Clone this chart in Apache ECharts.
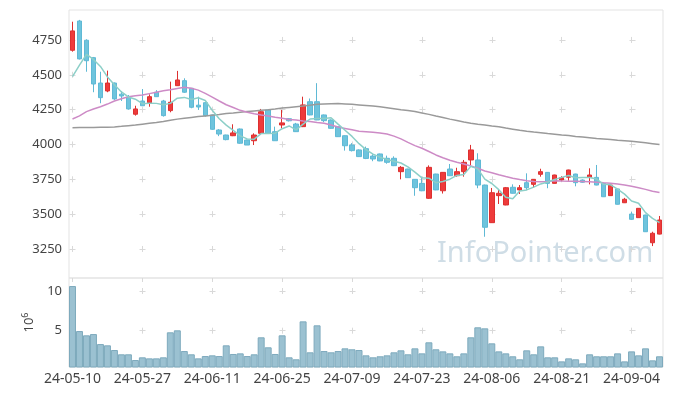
<!DOCTYPE html>
<html><head><meta charset="utf-8">
<script src="https://cdn.jsdelivr.net/npm/echarts@6/dist/echarts.min.js"></script>
<style>html,body{margin:0;padding:0;background:#fff}#c{width:673px;height:396px}</style>
</head><body><div id="c"></div>
<script>
const dates = ["24-05-10","24-05-13","24-05-14","24-05-16","24-05-17","24-05-20","24-05-21","24-05-22","24-05-23","24-05-24",
"24-05-27","24-05-28","24-05-29","24-05-30","24-05-31","24-06-03","24-06-04","24-06-05","24-06-07","24-06-10",
"24-06-11","24-06-12","24-06-13","24-06-14","24-06-17","24-06-18","24-06-19","24-06-20","24-06-21","24-06-24",
"24-06-25","24-06-26","24-06-27","24-06-28","24-07-01","24-07-02","24-07-03","24-07-04","24-07-05","24-07-08",
"24-07-09","24-07-10","24-07-11","24-07-12","24-07-15","24-07-16","24-07-17","24-07-18","24-07-19","24-07-22",
"24-07-23","24-07-24","24-07-25","24-07-26","24-07-29","24-07-30","24-07-31","24-08-01","24-08-02","24-08-05",
"24-08-06","24-08-07","24-08-08","24-08-09","24-08-12","24-08-13","24-08-14","24-08-16","24-08-19","24-08-20",
"24-08-21","24-08-22","24-08-23","24-08-26","24-08-27","24-08-28","24-08-29","24-08-30","24-09-02","24-09-03",
"24-09-04","24-09-05","24-09-06","24-09-09","24-09-10"];

const opens = [4676,4886,4748,4623,4441,4384,4441,4361,4339,4217,
4312,4300,4375,4312,4243,4422,4458,4403,4282,4300,
4212,4104,4068,4063,4111,4032,4027,4080,4248,4092,
4140,4185,4147,4128,4307,4307,4212,4176,4128,4063,
3996,3961,3970,3917,3932,3901,3901,3805,3824,3750,
3721,3614,3788,3668,3824,3776,3805,3889,3889,3709,
3439,3633,3566,3693,3674,3726,3714,3786,3800,3721,
3745,3765,3788,3745,3764,3764,3721,3633,3681,3582,
3501,3475,3494,3295,3357];
const highs = [4881,4894,4755,4628,4522,4530,4445,4384,4355,4278,
4398,4360,4390,4320,4451,4528,4475,4405,4343,4305,
4215,4110,4070,4145,4115,4035,4080,4255,4250,4128,
4248,4190,4155,4343,4330,4440,4215,4180,4130,4065,
4010,3965,3985,3930,3935,3920,3915,3845,3826,3752,
3769,3850,3790,3802,3860,3833,3889,3997,3937,3712,
3688,3678,3695,3714,3709,3793,3752,3826,3802,3783,
3772,3819,3790,3750,3829,3853,3723,3711,3683,3617,
3516,3544,3496,3374,3487];
const lows = [4666,4610,4522,4375,4296,4375,4320,4312,4250,4207,
4278,4271,4343,4200,4231,4420,4370,4260,4248,4200,
4105,4060,4030,4060,4005,3996,3996,4075,4078,4025,
4116,4165,4090,4125,4210,4175,4160,4114,4054,3956,
3950,3910,3895,3880,3880,3862,3845,3750,3760,3632,
3665,3610,3672,3648,3774,3769,3769,3853,3686,3338,
3437,3573,3564,3648,3645,3674,3690,3769,3686,3719,
3736,3740,3700,3725,3714,3707,3623,3631,3569,3580,
3458,3473,3372,3271,3355];
const closes = [4815,4614,4601,4434,4336,4441,4327,4348,4255,4255,
4278,4343,4343,4207,4303,4463,4375,4267,4269,4207,
4109,4075,4035,4083,4009,3996,4068,4235,4080,4027,
4155,4170,4092,4284,4212,4176,4171,4116,4056,3991,
3956,3913,3900,3896,3882,3872,3848,3836,3762,3690,
3668,3836,3674,3800,3776,3805,3872,3961,3709,3406,
3654,3650,3690,3650,3690,3690,3750,3805,3721,3781,
3762,3817,3726,3729,3781,3709,3625,3709,3571,3607,
3463,3542,3374,3363,3458];
const volumes = [10.63,4.96,4.42,4.58,3.32,3.16,2.57,2.03,2.03,1.31,
1.65,1.52,1.52,1.65,4.80,5.05,2.44,2.03,1.52,1.81,
1.90,1.81,3.16,2.07,2.15,1.81,2.03,4.17,2.91,2.07,
4.42,1.65,1.40,6.18,2.28,5.68,2.44,2.28,2.44,2.78,
2.66,2.57,1.90,1.65,1.78,1.90,2.28,2.53,2.03,2.78,
2.15,3.54,2.66,2.40,2.15,1.78,2.15,4.17,5.43,5.30,
3.41,2.40,2.15,1.78,1.40,2.53,2.03,3.03,1.65,1.65,
1.14,1.52,1.40,0.89,2.03,1.78,1.78,1.78,2.15,1.14,
2.40,1.90,2.78,1.27,1.78];
const ma5 = [4487,4570,4647,4610,4560,4485,4428,4377,4341,4325,
4293,4296,4295,4285,4295,4332,4338,4323,4335,4316,
4245,4185,4139,4102,4062,4040,4038,4078,4078,4081,
4113,4133,4105,4146,4183,4187,4187,4192,4146,4102,
4058,4006,3963,3931,3909,3893,3880,3867,3840,3802,
3761,3758,3726,3734,3751,3778,3785,3843,3825,3751,
3720,3676,3622,3610,3667,3674,3694,3717,3731,3749,
3764,3777,3761,3763,3763,3752,3714,3711,3679,3644,
3595,3578,3511,3470,3440];
const ma20 = [4183,4205,4236,4255,4271,4290,4312,4328,4343,4350,
4355,4365,4375,4385,4392,4402,4410,4403,4390,4367,
4340,4312,4285,4265,4245,4232,4220,4212,4205,4195,
4188,4180,4175,4169,4165,4158,4152,4140,4125,4115,
4105,4095,4092,4088,4082,4075,4060,4040,4015,3992,
3973,3950,3925,3905,3887,3872,3860,3845,3830,3810,
3797,3783,3770,3758,3748,3740,3735,3733,3735,3740,
3738,3737,3736,3734,3732,3729,3725,3722,3716,3710,
3700,3690,3678,3664,3655];
const ma60 = [4120,4121,4121,4122,4123,4124,4126,4130,4135,4140,
4146,4152,4158,4165,4174,4182,4188,4194,4200,4205,
4210,4215,4222,4226,4231,4236,4241,4246,4250,4255,
4261,4266,4271,4276,4282,4288,4291,4293,4294,4291,
4288,4284,4280,4276,4270,4264,4257,4250,4244,4236,
4226,4216,4204,4193,4182,4172,4162,4153,4146,4140,
4133,4128,4118,4110,4102,4095,4089,4084,4078,4073,
4068,4064,4058,4053,4048,4043,4039,4035,4030,4027,
4024,4018,4012,4006,4000];
const priceTicks = [3250,3500,3750,4000,4250,4500,4750];
const volTicks = [5,10];
const xTickIdx = [0,10,20,30,40,50,60,70,80];

const candleData = dates.map((d,i)=>[opens[i],closes[i],lows[i],highs[i]]);

const chart = echarts.init(document.getElementById('c'), null, {renderer:'canvas'});
const gridColor = '#e3e3e3';
const crossColor = '#d9d9d9';
const plain = v => String(v);
const lblFont = {color:'#444', fontSize:13, fontFamily:'"Noto Sans", sans-serif'};
chart.setOption({
  animation:false,
  backgroundColor:'#fff',
  grid:[
    {left:69, right:10, top:10, height:268, show:true, borderColor:gridColor, borderWidth:1},
    {left:69, right:10, top:278, height:89, show:true, borderColor:gridColor, borderWidth:1}
  ],
  xAxis:[
    {type:'category', gridIndex:0, data:dates, boundaryGap:true, axisLine:{show:false}, axisTick:{show:false}, axisLabel:{show:false}, splitLine:{show:false}},
    {type:'category', gridIndex:1, data:dates, boundaryGap:true, axisLine:{show:false}, axisTick:{show:false},
      axisLabel:Object.assign({}, lblFont, {interval:9, margin:5, fontSize:14}), splitLine:{show:false}},
    {type:'value', gridIndex:0, min:-0.5, max:84.5, axisLine:{show:false}, axisLabel:{show:false},
      axisTick:{show:false, customValues:xTickIdx},
      splitLine:{show:true, lineStyle:{color:crossColor, width:1, type:[6,28.84], dashOffset:7.9}}},
    {type:'value', gridIndex:1, min:-0.5, max:84.5, axisLine:{show:false}, axisLabel:{show:false},
      axisTick:{show:false, customValues:xTickIdx},
      splitLine:{show:true, lineStyle:{color:crossColor, width:1, type:[4,6,6,33.7,6,60]}}}
  ],
  yAxis:[
    {type:'value', gridIndex:0, min:3042, max:4965, axisLine:{show:false},
      axisTick:{show:false, customValues:priceTicks},
      axisLabel:Object.assign({customValues:priceTicks, margin:7, formatter:plain}, lblFont),
      splitLine:{show:true, lineStyle:{color:crossColor, width:1, type:[6,64], dashOffset:69.5}}},
    {type:'value', gridIndex:1, min:0.43, max:11.64, axisLine:{show:false},
      axisTick:{show:false, customValues:volTicks},
      axisLabel:Object.assign({customValues:volTicks, margin:7, formatter:plain}, lblFont),
      splitLine:{show:true, lineStyle:{color:crossColor, width:1, type:[6,64], dashOffset:69.5}},
      name:'{a|10}{b|6}', nameLocation:'middle', nameRotate:90, nameGap:28,
      nameTextStyle:{rich:{a:{fontSize:13,color:'#444',fontFamily:'"Noto Sans", sans-serif'}, b:{fontSize:9,color:'#444',fontFamily:'"Noto Sans", sans-serif', verticalAlign:'top', padding:[0,0,8,0]}}}}
  ],
  series:[
    {type:'candlestick', xAxisIndex:0, yAxisIndex:0, data:candleData, barWidth:5,
      itemStyle:{color:'#ee3b3b', color0:'#6ec4dd', borderColor:'#dd3030', borderColor0:'#5fb9d5', borderWidth:1}},
    {type:'line', xAxisIndex:0, yAxisIndex:0, data:ma60, showSymbol:false, lineStyle:{color:'#9a9a9a', width:1.5}},
    {type:'line', xAxisIndex:0, yAxisIndex:0, data:ma20, showSymbol:false, lineStyle:{color:'#cd8bc6', width:1.5}},
    {type:'line', xAxisIndex:0, yAxisIndex:0, data:ma5, showSymbol:false, lineStyle:{color:'#8ccfc8', width:1.5}},
    {type:'bar', xAxisIndex:1, yAxisIndex:1, data:volumes, barCategoryGap:'0%',
      itemStyle:{color:'#9bc1d1', borderColor:'#7eaabd', borderWidth:1}}
  ],
  graphic:[
    {type:'text', left:437, top:239, silent:true, z:-1,
      style:{text:'InfoPointer.com', font:'29px "Noto Sans", sans-serif', fill:'#cfdde6'}}
  ]
});
</script></body></html>
